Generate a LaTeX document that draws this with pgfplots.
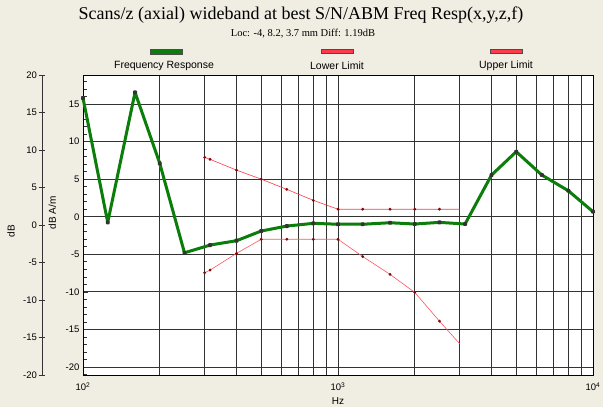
\documentclass[border=0pt]{standalone}
\usepackage{pgfplots}
\pgfplotsset{compat=1.18}
\usepackage{fontspec}
\setmainfont{Liberation Sans}
\newfontfamily\seriffont{Liberation Serif}
\definecolor{bg}{HTML}{F0EDE3}
\definecolor{fr}{HTML}{0B7D0B}
\definecolor{lim}{HTML}{FF3A4A}
\definecolor{mk}{HTML}{7A0A0A}
\begin{document}
\begin{tikzpicture}[x=1pt,y=1pt]
\fill[bg] (0,0) rectangle (603,407);
\path[use as bounding box] (0,0) rectangle (603,407);
% title
\node[font=\seriffont\fontsize{18}{20}\selectfont] at (301,392) {Scans/z (axial) wideband at best S/N/ABM Freq Resp(x,y,z,f)};
\node[font=\seriffont\fontsize{10.5}{12}\selectfont] at (303,373) {Loc: -4, 8.2, 3.7 mm Diff: 1.19dB};
% legend
\fill[fr,draw=black!70,line width=0.4pt] (150,353) rectangle (182,358);
\fill[lim,draw=black!70,line width=0.4pt] (321,353.5) rectangle (353,357.5);
\fill[lim,draw=black!70,line width=0.4pt] (490,353.5) rectangle (522,357.5);
\node[font=\fontsize{10.5}{12}\selectfont] at (164,341) {Frequency Response};
\node[font=\fontsize{10.5}{12}\selectfont] at (337,341) {Lower Limit};
\node[font=\fontsize{10.5}{12}\selectfont] at (506,341) {Upper Limit};
% outer dB axis
\begin{axis}[
  at={(42pt,32pt)}, anchor=south west, scale only axis,
  width=1pt, height=300pt,
  xmin=0, xmax=1, ymin=-20, ymax=20,
  axis x line=none, axis y line*=left,
  axis line style={-, black!80, line width=0.8pt},
  ytick={-20,-15,...,20}, tick align=center,
  major tick length=7pt,
  tick style={black!80, line width=0.8pt},
  /pgf/number format/assume math mode=true,
  yticklabel style={font=\fontsize{9.5}{10}\selectfont, xshift=2pt},
  ylabel={dB},
  ylabel style={font=\fontsize{10}{11}\selectfont, at={(axis description cs:0,0.48)}, anchor=center, yshift=31pt},
]
\end{axis}
% main axis
\begin{axis}[
  at={(83pt,32pt)}, anchor=south west, scale only axis,
  width=510pt, height=300pt,
  xmode=log, xmin=100, xmax=10000, ymin=-21.06, ymax=18.86,
  axis background/.style={fill=white},
  axis line style={black, line width=0.8pt},
  xtick={100,1000,10000},
  xticklabels={10\textsuperscript{2},10\textsuperscript{3},10\textsuperscript{4}},
  minor xtick={200,300,400,500,600,700,800,900,2000,3000,4000,5000,6000,7000,8000,9000},
  ytick={-20,-15,...,15},
  minor ytick={-21,...,18},
  tick pos=left,
  tick align=inside,
  major tick length=5pt, minor tick length=4pt,
  tick style={black!80, line width=0.7pt},
  xmajorgrids, xminorgrids, ymajorgrids,
  major grid style={black!80, line width=0.8pt},
  minor grid style={black!80, line width=0.8pt},
  /pgf/number format/assume math mode=true,
  ticklabel style={font=\fontsize{9.5}{10}\selectfont},
  xticklabel style={yshift=-4pt},
  xlabel={Hz},
  xlabel style={font=\fontsize{10}{11}\selectfont, at={(axis description cs:0.5,0)}, anchor=north, yshift=-19.5pt},
  ylabel={dB A/m},
  ylabel style={font=\fontsize{10}{11}\selectfont, at={(axis description cs:-0.06,0.54)}, anchor=center},
  clip=false,
]
\addplot[lim, line width=0.6pt, mark=*, mark size=1.1pt, mark options={fill=mk, draw=mk}, mark indices={1,...,11}]
coordinates {(300,7.9) (315,7.64) (400,6.2) (500,5.0) (630,3.64) (800,2.18) (1000,1.0) (1250,1.0) (1600,1.0) (2000,1.0) (2500,1.0) (3000,1.0)};
\addplot[lim!80!pink, line width=0.6pt, mark=*, mark size=1.1pt, mark options={fill=mk, draw=mk}, mark indices={1,...,11}]
coordinates {(300,-7.45) (315,-7.1) (400,-4.87) (500,-3.0) (630,-3.0) (800,-3.0) (1000,-3.0) (1250,-5.3) (1600,-7.67) (2000,-10.07) (2500,-13.9) (3000,-16.9)};
\addplot[fr, line width=3pt, line join=round, mark=*, mark size=0.9pt, mark options={fill=black!80, draw=black!80}]
coordinates {(100,15.8) (125,-0.75) (160,16.55) (200,7.1) (250,-4.8) (315,-3.77) (400,-3.19) (500,-1.9) (630,-1.24) (800,-0.88) (1000,-1.0) (1250,-1.0) (1600,-0.8) (2000,-0.97) (2500,-0.75) (3150,-0.97) (4000,5.55) (5000,8.65) (6300,5.55) (8000,3.46) (10000,0.67)};
\end{axis}
\end{tikzpicture}
\end{document}
